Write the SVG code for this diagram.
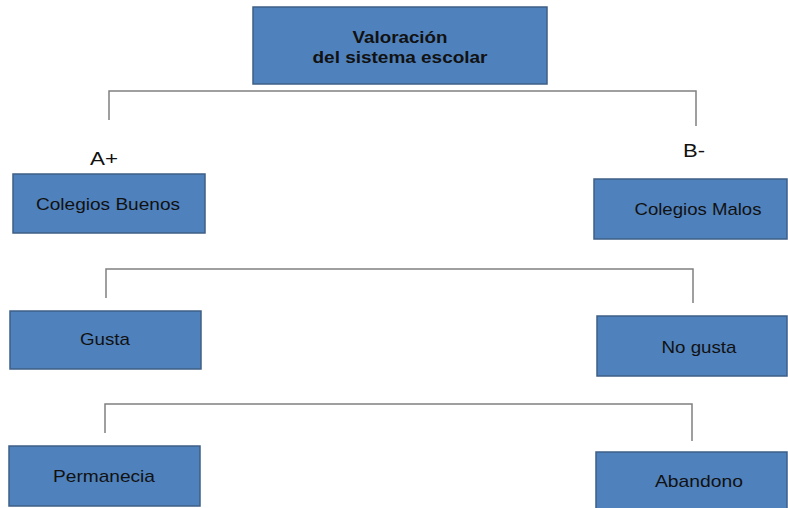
<svg xmlns="http://www.w3.org/2000/svg" width="788" height="508" viewBox="0 0 788 508">
<style>
.box{fill:#4F81BD;stroke:#3E5F86;stroke-width:1.5}
.t{font-family:"Liberation Sans",Arial,sans-serif;font-size:17px;fill:#111;text-anchor:middle}
.b{font-weight:bold}
.lab{font-family:"Liberation Sans",Arial,sans-serif;font-size:18px;fill:#111;text-anchor:middle}
.c{fill:none;stroke:#808080;stroke-width:1.5}
</style>
<rect width="788" height="508" fill="#fff"/>
<g id="connectors">
<path class="c" d="M109,120 V91 H696 V126"/>
<path class="c" d="M106,298 V269 H693 V303"/>
<path class="c" d="M105,433 V404 H692 V441"/>
</g>
<g id="n-valoracion">
<rect class="box" x="253" y="7" width="294" height="77"/>
<text class="t b" x="400" y="43" textLength="95" lengthAdjust="spacingAndGlyphs">Valoración</text>
<text class="t b" x="400" y="63" textLength="175" lengthAdjust="spacingAndGlyphs">del sistema escolar</text>
</g>
<g id="lab-a"><text class="lab" x="104" y="165" textLength="28" lengthAdjust="spacingAndGlyphs">A+</text></g>
<g id="lab-b"><text class="lab" x="694" y="157" textLength="22" lengthAdjust="spacingAndGlyphs">B-</text></g>
<g id="n-buenos">
<rect class="box" x="13" y="174" width="192" height="59"/>
<text class="t" x="108" y="210" textLength="144" lengthAdjust="spacingAndGlyphs">Colegios Buenos</text>
</g>
<g id="n-malos">
<rect class="box" x="594" y="179" width="193" height="60"/>
<text class="t" x="698" y="215" textLength="127" lengthAdjust="spacingAndGlyphs">Colegios Malos</text>
</g>
<g id="n-gusta">
<rect class="box" x="10" y="311" width="191" height="58"/>
<text class="t" x="105" y="345" textLength="50" lengthAdjust="spacingAndGlyphs">Gusta</text>
</g>
<g id="n-nogusta">
<rect class="box" x="597" y="316" width="190" height="60"/>
<text class="t" x="699" y="353" textLength="75" lengthAdjust="spacingAndGlyphs">No gusta</text>
</g>
<g id="n-permanecia">
<rect class="box" x="9" y="446" width="191" height="60"/>
<text class="t" x="104" y="482" textLength="102" lengthAdjust="spacingAndGlyphs">Permanecia</text>
</g>
<g id="n-abandono">
<rect class="box" x="596" y="452" width="191" height="60"/>
<text class="t" x="699" y="487" textLength="88" lengthAdjust="spacingAndGlyphs">Abandono</text>
</g>
</svg>
